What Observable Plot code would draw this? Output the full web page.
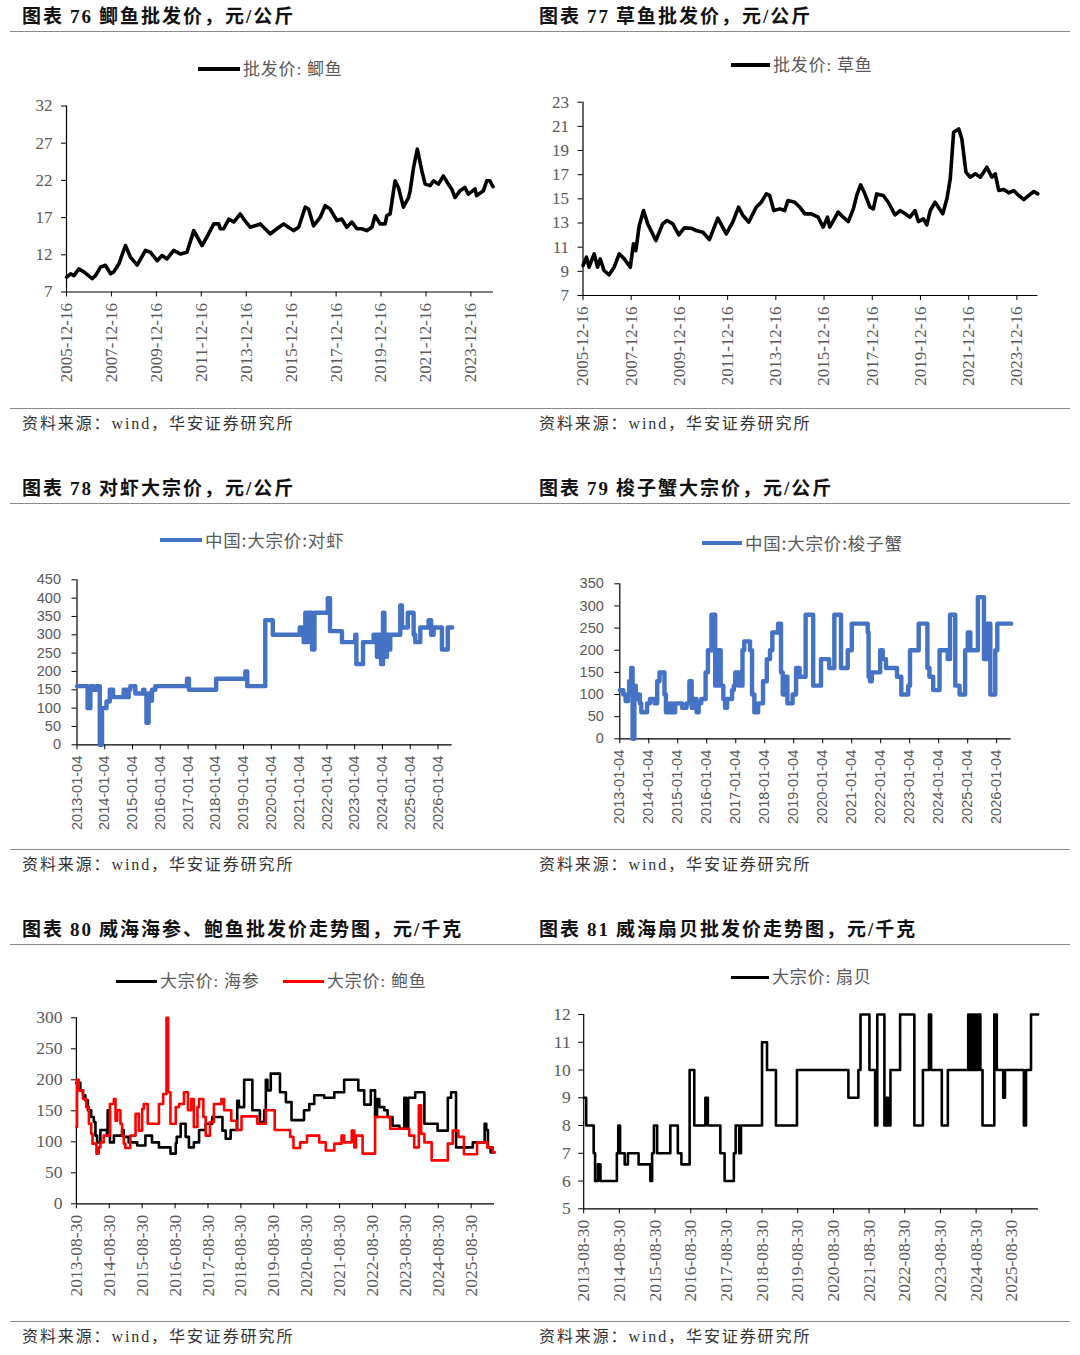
<!DOCTYPE html>
<html><head><meta charset="utf-8">
<script src="https://cdn.jsdelivr.net/npm/d3@7"></script>
<script src="https://cdn.jsdelivr.net/npm/@observablehq/plot@0.6"></script>
<style>
html,body{margin:0;padding:0;background:#fff;}
body{width:1080px;height:1355px;position:relative;overflow:hidden;}
.t{position:absolute;white-space:nowrap;line-height:1;transform:translateY(-50%);}
.title{font-family:"Liberation Serif","Noto Sans CJK SC";font-size:19px;font-weight:bold;color:#111;letter-spacing:2px;}
.title b{font-weight:bold;margin:0 6px;}
.src{font-family:"Liberation Serif","Noto Sans CJK SC";font-size:16px;color:#333;letter-spacing:1.9px;}
.rule{position:absolute;left:10px;width:1060px;height:0;}
.r1{border-top:1.6px solid #8a8a8a;}
.r2{border-top:1px solid #8a8a8a;}
svg{position:absolute;}
</style></head>
<body>
<div class="t title" style="left:22px;top:16px">图表<b>76</b>鲫鱼批发价，元/公斤</div>
<div class="t title" style="left:539px;top:16px">图表<b>77</b>草鱼批发价，元/公斤</div>
<div class="t title" style="left:22px;top:488px">图表<b>78</b>对虾大宗价，元/公斤</div>
<div class="t title" style="left:539px;top:488px">图表<b>79</b>梭子蟹大宗价，元/公斤</div>
<div class="t title" style="left:22px;top:929px">图表<b>80</b>威海海参、鲍鱼批发价走势图，元/千克</div>
<div class="t title" style="left:539px;top:929px">图表<b>81</b>威海扇贝批发价走势图，元/千克</div>
<div class="rule r1" style="top:31px"></div>
<div class="rule r1" style="top:503px"></div>
<div class="rule r1" style="top:944px"></div>
<div class="rule r2" style="top:408px"></div>
<div class="rule r2" style="top:849px"></div>
<div class="rule r2" style="top:1321px"></div>
<div class="t src" style="left:22px;top:424px">资料来源：wind，华安证券研究所</div>
<div class="t src" style="left:539px;top:424px">资料来源：wind，华安证券研究所</div>
<div class="t src" style="left:22px;top:865px">资料来源：wind，华安证券研究所</div>
<div class="t src" style="left:539px;top:865px">资料来源：wind，华安证券研究所</div>
<div class="t src" style="left:22px;top:1337px">资料来源：wind，华安证券研究所</div>
<div class="t src" style="left:539px;top:1337px">资料来源：wind，华安证券研究所</div>
<script>
// ---------- data (decimal years, values) ----------
const crucianT = [2005.96,2006.14,2006.29,2006.51,2006.73,2007.10,2007.25,2007.47,2007.69,2007.92,2008.06,2008.29,2008.58,2008.80,2009.10,2009.47,2009.69,2009.99,2010.21,2010.43,2010.73,2011.03,2011.32,2011.62,2011.99,2012.21,2012.51,2012.73,2012.80,2012.95,2013.18,2013.40,2013.69,2013.84,2014.14,2014.58,2015.03,2015.32,2015.62,2016.06,2016.29,2016.58,2016.73,2016.95,2017.25,2017.47,2017.69,2017.99,2018.21,2018.43,2018.66,2018.88,2019.10,2019.32,2019.55,2019.69,2019.92,2020.14,2020.21,2020.36,2020.58,2020.73,2020.95,2021.18,2021.25,2021.40,2021.57,2021.77,2021.92,2022.14,2022.29,2022.51,2022.73,2022.95,2023.10,2023.25,2023.47,2023.69,2023.84,2024.14,2024.21,2024.51,2024.66,2024.80,2024.94];
const crucianV = [9.0,9.45,9.2,10.1,9.7,8.8,9.2,10.35,10.6,9.45,9.7,10.8,13.25,11.7,10.6,12.6,12.35,11.2,11.9,11.45,12.6,12.1,12.35,15.25,13.25,14.4,16.15,16.15,15.5,15.5,16.8,16.4,17.5,16.8,15.7,16.15,14.8,15.5,16.15,15.25,15.7,18.4,18.15,15.9,17.05,18.6,18.15,16.6,16.8,15.7,16.4,15.5,15.5,15.25,15.7,17.25,16.15,16.15,17.25,17.5,21.95,21.05,18.4,19.7,20.6,23.7,26.2,23.3,21.5,21.3,21.95,21.5,22.6,21.5,20.85,19.7,20.6,21.05,20.15,20.85,19.95,20.6,21.95,21.95,21.15];

const grassT = [2005.96,2006.10,2006.21,2006.42,2006.56,2006.67,2006.83,2007.04,2007.25,2007.46,2007.67,2007.92,2008.05,2008.15,2008.29,2008.47,2008.64,2008.98,2009.26,2009.44,2009.68,2009.93,2010.16,2010.44,2010.65,2010.93,2011.20,2011.55,2011.90,2012.17,2012.41,2012.59,2012.83,2013.14,2013.35,2013.56,2013.70,2013.87,2014.12,2014.32,2014.46,2014.74,2014.95,2015.16,2015.43,2015.71,2015.92,2016.10,2016.19,2016.54,2016.75,2016.96,2017.17,2017.31,2017.47,2017.62,2017.86,2018.00,2018.14,2018.41,2018.62,2018.90,2019.11,2019.32,2019.52,2019.73,2019.87,2020.08,2020.22,2020.36,2020.56,2020.70,2020.88,2021.05,2021.19,2021.33,2021.54,2021.67,2021.84,2022.02,2022.23,2022.44,2022.71,2022.92,2023.06,2023.20,2023.41,2023.62,2023.82,2024.03,2024.24,2024.45,2024.66,2024.82];
const grassV = [9.48,10.17,9.34,10.45,9.34,10.03,9.07,8.71,9.34,10.45,10.03,9.34,11.28,10.72,12.79,14.03,12.93,11.55,12.93,13.21,12.93,12.02,12.6,12.57,12.38,12.24,11.63,13.4,12.1,13.07,14.31,13.62,13.07,14.31,14.72,15.41,15.28,14.03,14.17,14.03,14.86,14.72,14.31,13.76,13.76,13.48,12.66,13.48,12.66,13.9,13.48,13.12,14.17,15.28,16.16,15.55,14.31,14.17,15.41,15.28,14.72,13.68,14.03,13.76,13.48,14.03,13.12,13.34,12.85,14.03,14.72,14.31,13.76,15.0,16.66,20.52,20.79,19.97,17.21,16.79,17.07,16.79,17.62,16.79,17.07,15.69,15.77,15.5,15.69,15.28,14.94,15.28,15.61,15.41];

const shrimpT = [2013.01,2013.39,2013.49,2013.59,2013.71,2013.83,2013.91,2014.07,2014.19,2014.31,2014.69,2014.79,2014.87,2014.93,2015.11,2015.39,2015.44,2015.51,2015.59,2015.65,2015.71,2015.83,2016.97,2017.04,2018.02,2019.07,2019.14,2019.79,2020.06,2021.03,2021.11,2021.17,2021.23,2021.27,2021.32,2021.47,2021.56,2022.04,2022.12,2022.55,2023.03,2023.07,2023.31,2023.69,2023.81,2023.87,2023.96,2024.03,2024.08,2024.17,2024.23,2024.29,2024.65,2024.71,2024.92,2025.13,2025.19,2025.37,2025.67,2025.76,2025.85,2026.15,2026.36,2026.52];
const shrimpV = [160,100,160,150,160,0,100,118,150,130,150,130,150,160,140,150,140,60,140,120,150,160,180,150,180,200,160,340,300,320,300,280,360,280,360,260,360,400,310,280,300,220,280,300,240,300,220,360,240,300,260,300,380,320,360,300,280,320,340,300,320,260,320,320];

const crabT = [2013.01,2013.13,2013.21,2013.29,2013.33,2013.40,2013.45,2013.51,2013.56,2013.63,2013.70,2013.75,2013.95,2014.05,2014.21,2014.30,2014.38,2014.55,2014.60,2014.74,2014.83,2014.92,2015.16,2015.31,2015.41,2015.49,2015.57,2015.66,2015.73,2015.82,2015.97,2016.05,2016.17,2016.30,2016.41,2016.49,2016.58,2016.64,2016.71,2016.88,2016.94,2016.99,2017.12,2017.24,2017.30,2017.50,2017.57,2017.65,2017.78,2017.95,2018.08,2018.19,2018.27,2018.47,2018.57,2018.63,2018.72,2018.79,2018.97,2019.09,2019.21,2019.42,2019.68,2019.95,2020.23,2020.41,2020.64,2020.87,2021.01,2021.56,2021.59,2021.64,2021.70,2021.99,2022.08,2022.19,2022.57,2022.72,2022.96,2023.02,2023.32,2023.62,2023.69,2023.82,2024.04,2024.32,2024.40,2024.58,2024.73,2024.92,2025.01,2025.10,2025.36,2025.57,2025.68,2025.79,2025.96,2026.03,2026.51];
const crabV = [110,100,85,100,130,160,0,120,90,100,80,60,80,90,80,130,150,100,60,80,60,80,70,80,130,70,90,60,80,90,150,200,280,120,200,120,90,70,90,110,120,150,120,200,220,200,100,60,80,130,180,200,240,260,150,100,140,80,100,160,140,280,120,180,160,280,160,200,260,240,140,130,150,200,180,160,140,100,120,200,260,160,140,110,200,180,280,120,100,200,240,200,320,180,260,100,200,260,260];

const cucumberT = [2013.66,2013.78,2013.86,2013.93,2014.01,2014.11,2014.19,2014.24,2014.29,2014.39,2014.59,2014.61,2014.68,2014.80,2015.05,2015.10,2015.25,2015.51,2015.76,2015.96,2016.17,2016.52,2016.68,2016.71,2016.83,2016.98,2017.08,2017.23,2017.39,2017.59,2017.79,2018.10,2018.20,2018.35,2018.55,2018.60,2018.76,2019.01,2019.24,2019.37,2019.42,2019.47,2019.57,2019.85,2020.03,2020.20,2020.58,2020.74,2020.89,2021.19,2021.50,2021.80,2022.23,2022.41,2022.61,2022.74,2022.80,2022.87,2023.02,2023.12,2023.27,2023.48,2023.63,2023.68,2023.75,2023.96,2024.24,2024.64,2024.95,2025.05,2025.20,2025.71,2026.07,2026.12,2026.17,2026.25,2026.37];
const cucumberV = [195,183,175,167,151,140,132,110,99,119,110,151,99,110,119,108,99,94,110,99,91,81,98,108,129,108,91,99,119,129,140,118,105,119,166,156,200,151,132,151,200,183,210,180,164,135,151,161,175,171,180,200,183,160,183,140,169,156,151,140,126,121,171,121,171,180,129,118,171,180,91,99,129,119,91,83,83];

const abaloneT = [2013.66,2013.68,2013.73,2013.86,2013.96,2014.04,2014.11,2014.15,2014.27,2014.34,2014.39,2014.49,2014.68,2014.80,2014.85,2014.90,2015.00,2015.05,2015.10,2015.15,2015.30,2015.46,2015.56,2015.66,2015.71,2015.83,2016.17,2016.30,2016.40,2016.45,2016.52,2016.68,2016.78,2016.93,2017.05,2017.15,2017.23,2017.34,2017.39,2017.52,2017.59,2017.72,2017.84,2018.07,2018.15,2018.37,2018.53,2018.68,2019.16,2019.42,2019.69,2020.16,2020.26,2020.46,2020.67,2021.04,2021.24,2021.50,2021.72,2021.80,2022.03,2022.11,2022.16,2022.36,2022.74,2023.20,2023.78,2023.93,2024.07,2024.14,2024.24,2024.46,2024.95,2025.10,2025.27,2025.44,2025.84,2026.15,2026.32,2026.37];
const abaloneV = [124,200,183,169,156,129,113,97,81,91,99,110,161,169,134,151,129,110,97,90,110,145,118,153,161,129,161,177,300,180,129,156,161,180,151,169,124,156,169,140,110,132,161,169,151,134,119,141,129,151,119,108,90,99,110,99,86,97,110,99,118,91,110,81,140,121,110,91,159,113,99,70,97,118,108,80,99,91,83,83];

const scallopT = [2013.66,2013.73,2013.94,2013.98,2014.06,2014.13,2014.59,2014.63,2014.68,2014.81,2014.90,2015.20,2015.53,2015.58,2015.63,2015.72,2016.09,2016.30,2016.40,2016.63,2016.76,2017.07,2017.14,2017.49,2017.61,2017.87,2017.92,2018.02,2018.07,2018.66,2018.80,2019.05,2019.64,2021.08,2021.36,2021.42,2021.67,2021.83,2021.89,2022.09,2022.15,2022.19,2022.26,2022.53,2022.93,2023.17,2023.34,2023.40,2023.70,2023.87,2024.44,2024.49,2024.54,2024.59,2024.63,2024.68,2024.72,2024.78,2024.84,2025.17,2025.24,2025.42,2025.47,2026.00,2026.06,2026.20,2026.40];
const scallopV = [9,8,7,6,6.6,6,7,8,7,6.6,7,6.6,6,7,8,7,8,7,6.6,10,8,9,8,7,6,7,8,7,8,11,10,8,10,9,10,12,10,8,12,8,9,8,10,12,8,10,12,10,8,10,12,10,12,10,12,10,12,10,8,12,10,9,10,8,10,12,12];

const ticksDec = ["2005-12-16","2007-12-16","2009-12-16","2011-12-16","2013-12-16","2015-12-16","2017-12-16","2019-12-16","2021-12-16","2023-12-16"];
const ticksJan = ["2013-01-04","2014-01-04","2015-01-04","2016-01-04","2017-01-04","2018-01-04","2019-01-04","2020-01-04","2021-01-04","2022-01-04","2023-01-04","2024-01-04","2025-01-04","2026-01-04"];
const ticksAug = ["2013-08-30","2014-08-30","2015-08-30","2016-08-30","2017-08-30","2018-08-30","2019-08-30","2020-08-30","2021-08-30","2022-08-30","2023-08-30","2024-08-30","2025-08-30"];
const yTicks76 = [7,12,17,22,27,32];
const yTicks77 = [7,9,11,13,15,17,19,21,23];
const yTicks78 = [0,50,100,150,200,250,300,350,400,450];
const yTicks79 = [0,50,100,150,200,250,300,350];
const yTicks80 = [0,50,100,150,200,250,300];
const yTicks81 = [5,6,7,8,9,10,11,12];

// ---------- helpers ----------
const yearToDate = y => { const yr = Math.floor(y); const a = Date.UTC(yr,0,1), b = Date.UTC(yr+1,0,1); return new Date(a + (y - yr) * (b - a)); };
const parseDay = d3.utcParse("%Y-%m-%d");
const rows = (T, V) => T.map((t, i) => ({date: yearToDate(t), value: V[i]}));

function chart(o) {
  const xs = parseDay(o.xTicks[0]);
  const svg = Plot.plot({
    width: o.width, height: o.height,
    marginTop: o.m[0], marginRight: o.m[1], marginBottom: o.m[2], marginLeft: o.m[3],
    style: {fontFamily: o.font, fontSize: o.fs + "px", background: "transparent", overflow: "visible"},
    x: {type: "utc", domain: [xs, yearToDate(o.xEnd)]},
    y: {domain: o.yDomain},
    marks: [
      Plot.axisY({ticks: o.yTicks, tickFormat: d => String(d), tickSize: 5, tickPadding: o.yPad, label: null, stroke: "#000", fill: "#595959"}),
      Plot.axisX({ticks: o.xTicks.map(parseDay), tickFormat: d3.utcFormat("%Y-%m-%d"), tickRotate: -90, tickSize: 5, tickPadding: 6, label: null, stroke: "#000", fill: "#595959"}),
      Plot.ruleX([xs], {stroke: "#000", strokeWidth: 1.2}),
      Plot.ruleY([o.yDomain[0]], {stroke: "#000", strokeWidth: 1.2}),
      ...o.series.map(s => Plot.line(s.data, {x: "date", y: "value", stroke: s.color, strokeWidth: s.w, curve: s.curve, strokeLinejoin: "round"}))
    ]
  });
  svg.style.left = o.left + "px";
  svg.style.top = o.top + "px";
  document.body.appendChild(svg);
}

function legend(x0, x1, cy, color, w, label, font, size) {
  const line = document.createElement("div");
  line.style.cssText = `position:absolute;left:${x0}px;top:${cy - w / 2}px;width:${x1 - x0}px;height:${w}px;background:${color};`;
  const txt = document.createElement("div");
  txt.className = "t";
  txt.textContent = label;
  txt.style.cssText += `left:${x1 + 3}px;top:${cy}px;font-family:${font};font-size:${size}px;color:#595959;letter-spacing:0.8px;`;
  document.body.append(line, txt);
}

const serif = '"Liberation Serif","Noto Sans CJK SC"';
const sans = '"Noto Sans CJK SC"';

chart({left: 0, top: 95, width: 520, height: 300, m: [10.5, 27, 103.5, 66], font: "Liberation Serif", fs: 17, yPad: 9,
  xTicks: ticksDec, xEnd: 2024.96, yDomain: [7, 32], yTicks: yTicks76,
  series: [{data: rows(crucianT, crucianV), color: "#000", w: 3.6, curve: "linear"}]});
chart({left: 540, top: 90, width: 520, height: 305, m: [11.7, 22.5, 100, 42.5], font: "Liberation Serif", fs: 17, yPad: 9,
  xTicks: ticksDec, xEnd: 2024.83, yDomain: [7, 23], yTicks: yTicks77,
  series: [{data: rows(grassT, grassV), color: "#000", w: 3.6, curve: "linear"}]});
chart({left: 0, top: 568, width: 480, height: 270, m: [11.3, 28.3, 93.7, 76.5], font: "Liberation Sans", fs: 14.5, yPad: 11,
  xTicks: ticksJan, xEnd: 2026.52, yDomain: [0, 450], yTicks: yTicks78,
  series: [{data: rows(shrimpT, shrimpV), color: "#4472C4", w: 4.4, curve: "step-after"}]});
chart({left: 540, top: 572, width: 490, height: 265, m: [11.3, 19.3, 98.7, 79.3], font: "Liberation Sans", fs: 14.5, yPad: 11,
  xTicks: ticksJan, xEnd: 2026.51, yDomain: [0, 350], yTicks: yTicks79,
  series: [{data: rows(crabT, crabV), color: "#4472C4", w: 4.4, curve: "step-after"}]});
chart({left: 0, top: 1005, width: 520, height: 310, m: [12.3, 26, 111.7, 75.9], font: "Liberation Serif", fs: 17.5, yPad: 9,
  xTicks: ticksAug, xEnd: 2026.37, yDomain: [0, 300], yTicks: yTicks80,
  series: [{data: rows(cucumberT, cucumberV), color: "#000", w: 2.6, curve: "step-after"},
           {data: rows(abaloneT, abaloneV), color: "#FF0000", w: 2.6, curve: "step-after"}]});
chart({left: 540, top: 1003, width: 520, height: 312, m: [11, 22, 106.7, 43.2], font: "Liberation Serif", fs: 17.5, yPad: 8,
  xTicks: ticksAug, xEnd: 2026.41, yDomain: [5, 12], yTicks: yTicks81,
  series: [{data: rows(scallopT, scallopV), color: "#000", w: 2.6, curve: "step-after"}]});

legend(198, 240, 69, "#000", 3.5, "批发价: 鲫鱼", serif, 17);
legend(731, 770, 65, "#000", 3.5, "批发价: 草鱼", serif, 17);
legend(160, 202, 540, "#4472C4", 4.5, "中国:大宗价:对虾", sans, 17.5);
legend(702, 742, 543, "#4472C4", 4.5, "中国:大宗价:梭子蟹", sans, 17.5);
legend(116, 157, 981, "#000", 3, "大宗价: 海参", serif, 17);
legend(283, 324, 981, "#FF0000", 3, "大宗价: 鲍鱼", serif, 17);
legend(731, 769, 977, "#000", 3, "大宗价: 扇贝", serif, 17);
</script>
</body></html>
